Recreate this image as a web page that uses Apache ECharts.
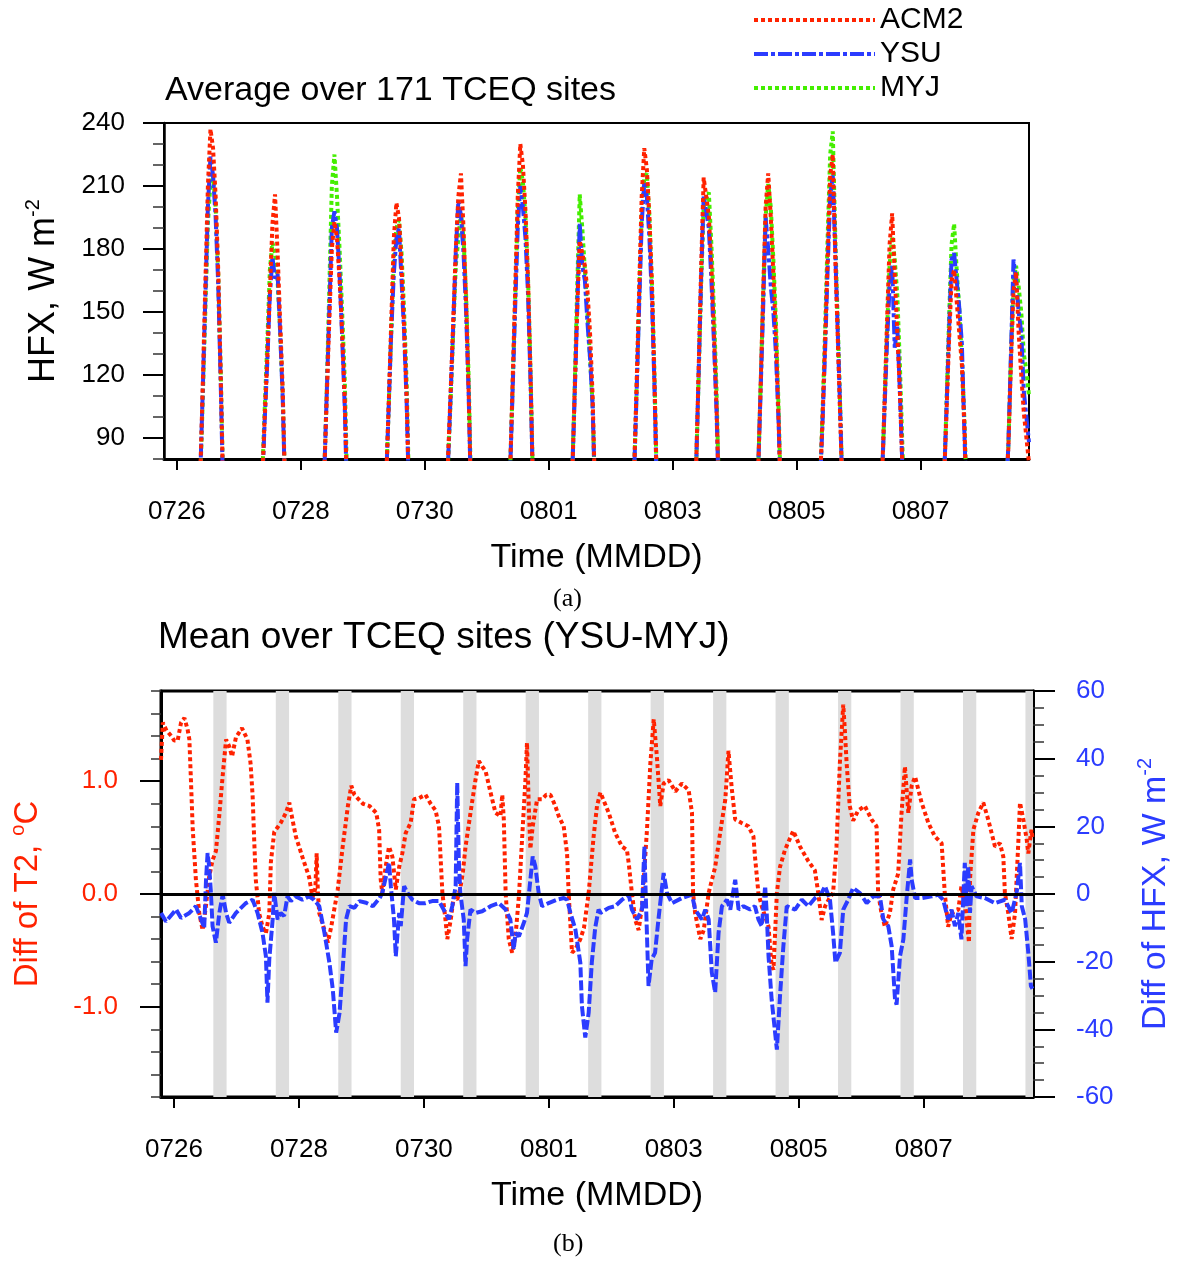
<!DOCTYPE html>
<html>
<head>
<meta charset="utf-8">
<script src="https://cdn.jsdelivr.net/npm/echarts@6/dist/echarts.min.js"></script>
<style>
  html, body { margin: 0; padding: 0; background: #fff; }
  #chart { width: 1185px; height: 1262px; }
</style>
</head>
<body>
<div id="chart"></div>
<script>
// hours since 0726 00:00
const tickHours = [0, 48, 96, 144, 192, 240, 288];
const tickLabels = ['0726', '0728', '0730', '0801', '0803', '0805', '0807'];

// panel (a): HFX per day, hours 8..18
const dayHours = [8, 9, 10, 11, 12, 13, 14, 15, 16, 17, 18];
const acm2Hfx = [
  [35, 70, 115, 163, 210, 237, 228, 205, 170, 118, 60],
  [35, 68, 100, 128, 160, 192, 206, 178, 145, 112, 60],
  [35, 70, 108, 145, 180, 193, 185, 165, 140, 108, 58],
  [35, 68, 105, 145, 185, 202, 195, 172, 143, 108, 56],
  [35, 80, 112, 145, 180, 205, 216, 190, 155, 112, 56],
  [35, 72, 116, 160, 205, 230, 220, 198, 165, 118, 62],
  [35, 68, 110, 150, 184, 178, 172, 160, 140, 110, 60],
  [35, 70, 114, 160, 205, 228, 218, 195, 162, 115, 58],
  [35, 72, 120, 170, 214, 205, 196, 172, 140, 105, 58],
  [35, 70, 112, 158, 200, 216, 195, 168, 138, 100, 55],
  [35, 66, 98, 135, 175, 215, 225, 175, 135, 95, 52],
  [35, 68, 105, 145, 182, 197, 168, 140, 112, 75, 45],
  [35, 66, 100, 135, 165, 170, 155, 140, 125, 95, 52],
  [35, 62, 85, 125, 160, 169, 140, 120, 102, 90, 78]
];
const ysuHfx = [
  [35, 70, 112, 156, 200, 224, 215, 195, 163, 114, 58],
  [35, 66, 98, 126, 158, 176, 166, 168, 140, 108, 58],
  [35, 70, 110, 150, 190, 198, 190, 168, 138, 105, 55],
  [35, 68, 104, 140, 168, 185, 190, 165, 140, 106, 55],
  [35, 78, 110, 143, 178, 203, 196, 178, 150, 110, 55],
  [35, 72, 112, 152, 190, 210, 200, 185, 158, 115, 60],
  [35, 68, 108, 150, 192, 172, 165, 145, 128, 105, 58],
  [35, 70, 110, 152, 192, 212, 205, 185, 155, 112, 56],
  [35, 72, 118, 165, 205, 198, 190, 165, 135, 102, 56],
  [35, 70, 110, 150, 195, 180, 162, 150, 130, 98, 55],
  [35, 66, 96, 130, 170, 205, 215, 178, 138, 98, 52],
  [35, 68, 102, 135, 162, 172, 133, 143, 112, 75, 42],
  [35, 66, 102, 140, 175, 178, 165, 152, 135, 92, 50],
  [35, 62, 86, 130, 175, 165, 150, 140, 112, 100, 88]
];
const myjHfx = [
  [35, 68, 108, 150, 192, 212, 215, 200, 168, 120, 62],
  [35, 70, 104, 135, 170, 183, 178, 165, 140, 110, 60],
  [35, 70, 112, 160, 210, 225, 205, 180, 150, 118, 65],
  [35, 68, 104, 140, 175, 190, 194, 178, 150, 115, 60],
  [35, 78, 108, 140, 172, 185, 197, 185, 158, 118, 60],
  [35, 72, 114, 156, 198, 219, 212, 195, 165, 120, 62],
  [35, 68, 112, 160, 206, 190, 170, 150, 128, 106, 58],
  [35, 70, 112, 155, 196, 214, 216, 195, 162, 118, 60],
  [35, 72, 116, 162, 200, 204, 207, 182, 150, 112, 60],
  [35, 70, 112, 155, 195, 211, 200, 175, 145, 105, 58],
  [35, 66, 100, 140, 185, 225, 236, 185, 142, 100, 54],
  [35, 68, 104, 140, 172, 186, 175, 158, 125, 85, 48],
  [35, 66, 104, 145, 182, 192, 170, 152, 128, 98, 55],
  [35, 62, 86, 128, 165, 172, 162, 150, 130, 122, 110]
];

// panel (b): [hour, YSU-MYJ T2 diff]
const t2Diff = [
  [-5, 1.19], [-4.3, 1.52], [-2.9, 1.45], [-1.0, 1.40], [0.1, 1.36], [1.4, 1.36], [2.7, 1.52], [4.0, 1.56],
  [5.2, 1.46], [5.9, 1.37], [6.5, 1.01], [7.2, 0.57], [8.4, 0.13], [9.7, -0.17], [11.0, -0.32], [12.3, -0.10],
  [13.5, 0.15], [14.8, 0.30], [16.1, 0.38], [17.4, 0.70], [18.7, 1.05], [20.0, 1.37], [21.2, 1.31], [22.3, 1.22],
  [23.8, 1.39], [26.1, 1.47], [28.2, 1.37], [29.4, 1.16], [30.2, 0.87], [30.8, 0.48], [31.4, 0.13], [32.7, -0.17],
  [34.0, -0.29], [35.3, -0.35], [36.6, -0.17], [37.2, 0.28], [38.5, 0.55], [41.0, 0.63], [43.0, 0.72], [44.3, 0.81],
  [45.0, 0.72], [46.8, 0.51], [49.3, 0.33], [51.9, 0.15], [53.2, -0.03], [54.3, 0.05], [54.8, 0.36], [55.3, 0.0],
  [55.8, -0.17], [57.8, -0.32], [59.1, -0.43], [60.4, -0.29], [62.9, 0.04], [64.8, 0.42], [66.8, 0.78], [68.1, 0.96],
  [69.3, 0.88], [70.5, 0.85], [72.6, 0.80], [75.1, 0.78], [77.7, 0.72], [78.8, 0.57], [79.4, 0.13], [80.0, 0.01],
  [81.3, 0.24], [82.6, 0.42], [83.9, 0.33], [85.2, 0.04], [86.5, 0.24], [87.7, 0.36], [89.0, 0.54], [90.9, 0.63],
  [92.2, 0.84], [94.1, 0.85], [96.6, 0.88], [98.6, 0.80], [100.5, 0.74], [101.8, 0.60], [103.1, 0.01], [104.3, -0.23],
  [105.0, -0.40], [106.3, -0.23], [107.5, -0.02], [108.8, -0.05], [110.0, 0.05], [111.0, 0.20], [112.0, 0.42], [113.9, 0.72],
  [115.8, 1.01], [117.1, 1.18], [118.4, 1.13], [119.7, 1.09], [121.6, 0.90], [123.5, 0.72], [125.4, 0.69], [126.1, 0.88],
  [126.7, 0.66], [127.4, 0.01], [128.6, -0.40], [129.9, -0.52], [131.2, -0.37], [132.5, -0.02], [133.7, 0.48], [135.0, 1.01],
  [135.6, 1.34], [136.3, 0.77], [136.9, 0.40], [137.8, 0.60], [139.5, 0.84], [141.4, 0.84], [143.0, 0.88], [144.6, 0.88],
  [146.5, 0.78], [147.8, 0.69], [149.7, 0.60], [151.0, 0.36], [151.6, 0.01], [152.9, -0.52], [154.2, -0.49], [156.1, -0.40],
  [157.5, -0.30], [159.3, 0.01], [161.2, 0.51], [162.5, 0.78], [163.8, 0.90], [164.4, 0.90], [167.0, 0.72], [169.5, 0.54],
  [172.1, 0.42], [174.0, 0.39], [174.7, 0.27], [175.9, 0.01], [177.2, -0.23], [178.5, -0.32], [179.8, -0.11], [181.7, 0.57],
  [183.0, 1.16], [184.3, 1.55], [185.5, 1.22], [186.8, 0.78], [188.1, 0.98], [190.0, 1.01], [192.6, 0.91], [195.1, 0.98],
  [197.7, 0.92], [199.0, 0.72], [199.4, 0.01], [200.2, -0.17], [202.2, -0.40], [203.5, -0.32], [205.4, 0.01], [207.9, 0.24],
  [209.8, 0.54], [211.8, 0.84], [213.0, 1.27], [214.3, 0.93], [215.6, 0.66], [218.1, 0.63], [220.7, 0.60], [222.6, 0.51],
  [223.2, 0.33], [224.5, 0.01], [225.8, -0.11], [228.4, -0.29], [229.6, -0.64], [230.3, -0.67], [231.6, 0.01], [232.8, 0.24],
  [234.7, 0.39], [237.9, 0.56], [240.5, 0.42], [243.7, 0.29], [246.2, 0.21], [247.5, 0.01], [248.8, -0.23], [250.1, -0.11],
  [251.5, -0.05], [253.2, 0.01], [254.5, 0.42], [255.8, 1.16], [257.1, 1.68], [257.7, 1.46], [258.4, 1.16], [259.6, 0.78],
  [260.9, 0.65], [262.8, 0.74], [265.4, 0.78], [268.0, 0.66], [269.9, 0.60], [270.5, 0.01], [271.8, -0.17], [273.1, -0.29],
  [275.0, -0.17], [276.3, 0.04], [278.2, 0.18], [279.5, 0.72], [280.8, 1.13], [282.1, 0.72], [283.4, 0.96], [284.7, 1.04],
  [287.2, 0.81], [289.8, 0.63], [292.3, 0.51], [294.9, 0.45], [296.1, 0.01], [297.4, -0.29], [298.7, -0.17], [301.3, -0.14],
  [302.5, 0.07], [303.5, -0.05], [304.5, -0.23], [305.4, -0.43], [305.8, 0.13], [307.1, 0.57], [309.0, 0.72], [310.9, 0.81],
  [312.8, 0.66], [315.4, 0.42], [317.3, 0.45], [318.6, 0.33], [319.2, 0.01], [320.5, -0.17], [321.8, -0.40], [323.1, -0.17],
  [324.4, 0.48], [325.0, 0.81], [326.3, 0.66], [327.6, 0.48], [328.2, 0.36], [329.4, 0.57], [329.8, 0.50]
];
// panel (b): [hour, YSU-MYJ HFX diff]
const hfxDiff = [
  [-5, -5.6], [-3.1, -8.1], [0.8, -4.6], [2.7, -7.1], [5.9, -5.6], [8.4, -3.6], [10.4, -7.5], [11.6, -10.0],
  [12.3, 4.2], [12.9, 12.1], [13.5, 8.2], [14.2, 0.3], [14.8, -9.5], [16.1, -14.4], [17.4, -5.6], [18.7, -0.2],
  [20.0, -5.6], [21.2, -8.5], [23.8, -5.6], [27.6, -2.7], [30.2, -1.7], [32.1, -5.6], [34.0, -11.5], [35.3, -18.4],
  [35.9, -32.1], [36.6, -19.3], [37.9, -7.5], [38.5, 0.3], [39.8, -7.5], [41.0, -5.6], [42.3, -6.5], [43.6, -0.7],
  [44.9, -2.1], [46.8, -0.7], [49.3, -1.7], [51.9, -0.7], [53.8, -1.7], [55.8, -3.6], [57.8, -11.5], [59.7, -20.3],
  [61.0, -28.2], [62.3, -41.0], [63.6, -35.1], [64.8, -22.3], [66.1, -7.5], [67.4, -3.6], [69.3, -4.1], [71.2, -2.1],
  [73.8, -2.6], [76.4, -3.6], [79.0, -1.2], [80.0, 0.3], [82.6, 9.2], [83.3, 2.3], [84.5, -7.5], [85.2, -18.4],
  [86.5, -5.6], [87.1, -9.5], [88.4, 2.3], [89.7, 0.3], [91.6, -1.7], [94.1, -2.7], [96.6, -2.7], [99.2, -2.1],
  [101.8, -2.1], [104.3, -5.6], [105.6, -7.5], [106.9, -3.6], [108.2, 2.3], [108.8, 32.9], [109.4, 10.2], [110.0, 0.3],
  [111.3, -7.5], [112.0, -21.3], [112.6, -13.4], [113.9, -4.6], [115.8, -5.6], [118.4, -5.1], [121.6, -3.6], [124.8, -2.7],
  [127.4, -4.6], [129.2, -7.5], [130.5, -16.4], [131.2, -11.5], [132.5, -12.5], [134.4, -8.5], [135.6, -5.6], [136.9, 4.2],
  [137.8, 11.1], [138.8, 8.2], [140.1, 0.3], [141.4, -3.6], [143.9, -2.7], [147.1, -1.7], [149.7, -1.2], [151.0, -1.7],
  [152.3, -5.6], [154.2, -10.5], [156.1, -20.3], [156.7, -33.1], [158.0, -42.4], [159.3, -35.1], [160.5, -20.3], [161.8, -10.0],
  [163.1, -4.6], [163.8, -5.6], [167.0, -4.1], [169.5, -3.6], [172.1, -1.7], [174.7, -0.2], [175.9, -4.6], [177.9, -7.5],
  [179.8, -4.6], [180.7, 14.1], [181.2, 0.3], [182.3, -27.2], [183.5, -19.3], [184.8, -17.4], [186.1, -7.5], [188.1, 6.2],
  [189.4, 0.3], [191.3, -2.7], [195.1, -1.2], [199.0, -0.2], [200.2, -4.6], [202.8, -7.5], [204.1, -4.6], [205.4, -7.5],
  [206.6, -23.2], [207.9, -29.1], [209.2, -11.5], [210.5, -3.6], [212.4, -1.7], [213.7, -4.6], [215.6, 4.2], [216.9, -4.6],
  [218.8, -3.6], [221.3, -4.6], [223.2, -3.6], [224.5, -7.5], [225.8, -9.5], [227.1, 2.3], [227.7, -5.6], [228.4, -18.4],
  [229.6, -31.2], [231.6, -46.0], [232.8, -30.2], [234.1, -15.4], [235.4, -3.6], [238.6, -4.6], [241.2, -1.7], [243.7, -3.6],
  [246.3, -1.2], [248.8, 0.3], [250.1, 2.3], [252.0, -1.7], [253.2, -11.5], [254.1, -20.3], [255.8, -17.4], [257.1, -4.6],
  [259.0, -1.7], [260.9, 1.8], [263.5, 0.3], [266.1, -2.7], [268.6, -0.7], [271.2, -0.7], [272.5, -7.5], [274.4, -9.5],
  [275.7, -15.4], [277.0, -31.2], [277.6, -32.7], [278.9, -18.4], [280.2, -13.4], [281.5, -0.7], [282.8, 10.2], [283.4, 4.2],
  [284.7, -1.2], [287.2, -1.2], [291.1, -0.7], [293.6, -0.2], [295.5, -1.7], [297.4, -7.5], [298.7, -4.6], [300.0, -9.5],
  [301.3, -5.6], [302.5, -13.4], [303.8, 9.2], [304.5, -3.6], [305.1, 8.2], [305.8, -5.6], [306.4, 2.3], [308.3, -0.7],
  [311.5, -1.2], [315.4, -2.7], [319.2, -1.7], [321.8, -5.6], [323.7, 0.3], [325.0, 9.2], [325.7, -3.6], [327.0, -7.5],
  [328.2, -17.4], [329.2, -27.2], [329.8, -28.0]
];
// shaded periods [start hour, end hour]
const bandHours = [
  [15.1, 20.2], [39.1, 44.2], [63.1, 68.2], [87.1, 92.2], [111.1, 116.2], [135.1, 140.2], [159.1, 164.2],
  [183.1, 188.2], [207.1, 212.2], [231.1, 236.2], [255.1, 260.2], [279.1, 284.2], [303.1, 308.2], [327.1, 332.2]
];

const FONT = 'Liberation Sans, Arial, Helvetica, sans-serif';
const SERIF = 'Liberation Serif, Times New Roman, serif';
const RED = '#ff2200';
const BLUE = '#2b3cff';
const GREEN = '#44ee00';

function buildDays(rows) {
  const out = [];
  rows.forEach((row, d) => {
    row.forEach((v, k) => out.push([d * 24 + dayHours[k], v]));
  });
  return out;
}

function hourLabel(v) {
  const i = tickHours.indexOf(v);
  return i < 0 ? '' : tickLabels[i];
}

function timeAxis(gridIndex) {
  return {
    type: 'value', gridIndex, min: -5, max: 330,
    name: 'Time (MMDD)', nameLocation: 'middle', nameGap: 82,
    nameTextStyle: { fontSize: 34, color: '#000', fontFamily: FONT },
    axisLine: { onZero: false, lineStyle: { color: '#000', width: 3 } },
    axisTick: { customValues: tickHours, length: 11, lineStyle: { color: '#000', width: 2 } },
    axisLabel: { customValues: tickHours, formatter: hourLabel, fontSize: 26, color: '#000', margin: 40, fontFamily: FONT },
    splitLine: { show: false }
  };
}

// major tick overlay (no line, no labels)
function majorTicks(gridIndex, position, min, max, values, len) {
  return {
    type: 'value', gridIndex, position, min, max,
    axisLine: { show: false, onZero: false },
    axisLabel: { show: false },
    splitLine: { show: false },
    axisTick: { show: true, customValues: values, length: len, lineStyle: { color: '#000', width: 2 } }
  };
}

function supName(text, sup, color, size, tail) {
  const rich = {
    n: { fontSize: size, lineHeight: size + 7, color, fontFamily: FONT },
    s: { fontSize: 20, verticalAlign: 'top', color, fontFamily: FONT }
  };
  return { text: '{n|' + text + '}{s|' + sup + '}' + (tail ? '{n|' + tail + '}' : ''), rich };
}

const nameA = supName('HFX, W m', '-2', '#000', 36);
const nameT2 = supName('Diff of T2, ', 'o', RED, 33, 'C');
const nameHfx = supName('Diff of HFX, W m', '-2', BLUE, 34);

const chart = echarts.init(document.getElementById('chart'));

const option = {
  animation: false,
  backgroundColor: '#fff',
  textStyle: { fontFamily: FONT },
  title: [
    { text: 'Average over 171 TCEQ sites', left: 165, top: 74, padding: 0,
      textStyle: { fontSize: 34, fontWeight: 'normal', color: '#000', fontFamily: FONT } },
    { text: 'Mean over TCEQ sites (YSU-MYJ)', left: 158, top: 619, padding: 0,
      textStyle: { fontSize: 37, fontWeight: 'normal', color: '#000', fontFamily: FONT } },
    { text: '(a)', left: 553, top: 586, padding: 0,
      textStyle: { fontSize: 26, fontWeight: 'normal', color: '#000', fontFamily: SERIF } },
    { text: '(b)', left: 553, top: 1231, padding: 0,
      textStyle: { fontSize: 26, fontWeight: 'normal', color: '#000', fontFamily: SERIF } }
  ],
  legend: {
    data: ['ACM2', 'YSU', 'MYJ'],
    orient: 'vertical', left: 752, top: 5, padding: 0,
    itemWidth: 121, itemHeight: 12, itemGap: 4,
    itemStyle: { opacity: 0 },
    lineStyle: { width: 4 },
    textStyle: { fontSize: 30, color: '#000', fontFamily: FONT }
  },
  grid: [
    { left: 164, right: 156, top: 123, height: 336, show: true, borderColor: '#000', borderWidth: 2 },
    { left: 160, right: 152, top: 691, height: 406, show: true, borderColor: '#000', borderWidth: 3 }
  ],
  xAxis: [timeAxis(0), timeAxis(1)],
  yAxis: [
    {
      type: 'value', gridIndex: 0, position: 'left', min: 80, max: 240, interval: 10,
      name: nameA.text, nameLocation: 'middle', nameGap: 98, nameRotate: 90,
      nameTextStyle: { rich: nameA.rich },
      axisLine: { onZero: false, lineStyle: { color: '#000', width: 2.5 } },
      axisTick: { length: 11, lineStyle: { color: '#333', width: 1.5 } },
      axisLabel: { formatter: v => (v % 30 === 0 ? String(v) : ''), fontSize: 26, color: '#000', margin: 39 },
      splitLine: { show: false }
    },
    majorTicks(0, 'left', 80, 240, [90, 120, 150, 180, 210, 240], 21),
    {
      type: 'value', gridIndex: 1, position: 'left', min: -1.8, max: 1.8, interval: 0.2,
      name: nameT2.text, nameLocation: 'middle', nameGap: 113, nameRotate: 90,
      nameTextStyle: { rich: nameT2.rich },
      axisLine: { onZero: false, lineStyle: { color: '#000', width: 3 } },
      axisTick: { length: 10, lineStyle: { color: '#333', width: 1.5 } },
      axisLabel: {
        formatter: v => (Math.abs(v - Math.round(v)) < 1e-6 ? Math.round(v).toFixed(1) : ''),
        fontSize: 26, color: RED, margin: 43
      },
      splitLine: { show: false }
    },
    majorTicks(1, 'left', -1.8, 1.8, [-1, 0, 1], 21),
    {
      type: 'value', gridIndex: 1, position: 'right', min: -60, max: 60, interval: 5,
      name: nameHfx.text, nameLocation: 'middle', nameGap: 102, nameRotate: 90,
      nameTextStyle: { rich: nameHfx.rich },
      axisLine: { onZero: false, lineStyle: { color: '#000', width: 3 } },
      axisTick: { length: 11, lineStyle: { color: '#333', width: 1.5 } },
      axisLabel: { formatter: v => (v % 20 === 0 ? String(v) : ''), fontSize: 26, color: BLUE, margin: 43 },
      splitLine: { show: false }
    },
    majorTicks(1, 'right', -60, 60, [-60, -40, -20, 0, 20, 40, 60], 22)
  ],
  series: [
    {
      name: 'MYJ', type: 'line', xAxisIndex: 0, yAxisIndex: 0, data: buildDays(myjHfx),
      symbol: 'none', itemStyle: { color: GREEN },
      lineStyle: { color: GREEN, width: 4, type: [4, 3] }
    },
    {
      name: 'YSU', type: 'line', xAxisIndex: 0, yAxisIndex: 0, data: buildDays(ysuHfx),
      symbol: 'none', itemStyle: { color: BLUE },
      lineStyle: { color: BLUE, width: 4, type: [14, 3, 4, 3] }
    },
    {
      name: 'ACM2', type: 'line', xAxisIndex: 0, yAxisIndex: 0, data: buildDays(acm2Hfx),
      symbol: 'none', itemStyle: { color: RED },
      lineStyle: { color: RED, width: 4, type: [4, 3] }
    },
    {
      name: 'T2 diff', type: 'line', xAxisIndex: 1, yAxisIndex: 2, data: t2Diff,
      symbol: 'none', itemStyle: { color: RED },
      lineStyle: { color: RED, width: 4, type: [4, 3] },
      markArea: {
        silent: true,
        itemStyle: { color: '#dddddd' },
        data: bandHours.map(b => [{ xAxis: b[0] }, { xAxis: b[1] }])
      },
      markLine: {
        silent: true, symbol: 'none', label: { show: false },
        lineStyle: { color: '#000', width: 3, type: 'solid' },
        data: [{ yAxis: 0 }]
      }
    },
    {
      name: 'HFX diff', type: 'line', xAxisIndex: 1, yAxisIndex: 4, data: hfxDiff,
      symbol: 'none', itemStyle: { color: BLUE },
      lineStyle: { color: BLUE, width: 4, type: [10, 3] }
    }
  ]
};

chart.setOption(option);
window.addEventListener('resize', () => chart.resize());
</script>
</body>
</html>
